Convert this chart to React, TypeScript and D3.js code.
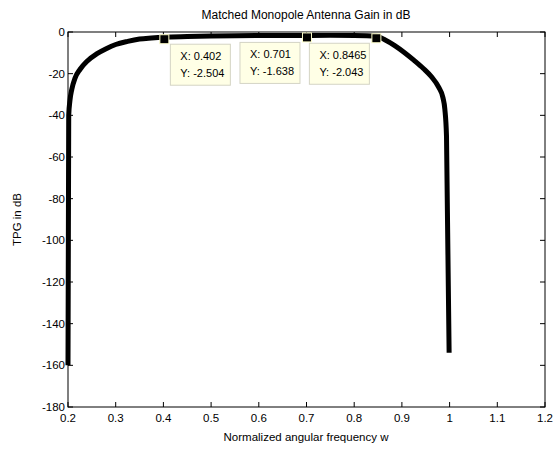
import React from "react";
import * as d3 from "d3";

const WIDTH = 559;
const HEIGHT = 449;
const MARGIN = { top: 32, right: 14, bottom: 42, left: 68 };

// normalized angular frequency and gain (dB)
const freq = [
  0.2, 0.2015, 0.204, 0.208, 0.215, 0.225, 0.24, 0.26, 0.28, 0.3, 0.325, 0.35,
  0.375, 0.402, 0.45, 0.5, 0.55, 0.6, 0.65, 0.701, 0.75, 0.8, 0.8465, 0.865,
  0.885, 0.905, 0.925, 0.945, 0.962, 0.977, 0.986, 0.99, 0.9935, 0.999,
];
const tpg = [
  -160, -40, -33, -27.5, -22, -18, -14, -10.5, -8, -6, -4.5, -3.4, -2.9, -2.504,
  -2.2, -1.95, -1.8, -1.72, -1.67, -1.638, -1.62, -1.7, -2.043, -3.8, -6.5,
  -9.8, -13.5, -17.5, -21.5, -26.5, -31.5, -37, -50, -154,
];

// data tips
const tipX = [0.402, 0.701, 0.8465];
const tipY = [-2.504, -1.638, -2.043];
const tipSide = ["right", "left", "left"];

const xTicks = [0.2, 0.3, 0.4, 0.5, 0.6, 0.7, 0.8, 0.9, 1, 1.1, 1.2];
const yTicks = [0, -20, -40, -60, -80, -100, -120, -140, -160, -180];

const FONT = "Liberation Sans, Arial, Helvetica, sans-serif";

export default function App() {
  const boundsWidth = WIDTH - MARGIN.left - MARGIN.right;
  const boundsHeight = HEIGHT - MARGIN.top - MARGIN.bottom;

  const xScale = d3.scaleLinear().domain([0.2, 1.2]).range([0, boundsWidth]);
  const yScale = d3.scaleLinear().domain([-180, 0]).range([boundsHeight, 0]);

  const line = d3
    .line<number>()
    .x((_, i) => xScale(freq[i]))
    .y((d) => yScale(d))
    .curve(d3.curveMonotoneX);

  const path = line(tpg) || "";
  const tick = 5;

  return (
    <svg
      width={WIDTH}
      height={HEIGHT}
      style={{ position: "absolute", left: 0, top: 0, background: "#fff" }}
      fontFamily={FONT}
    >
      <text x={306} y={19} fontSize={12} textAnchor="middle" fill="#000">
        Matched Monopole Antenna Gain in dB
      </text>
      <g transform={`translate(${MARGIN.left},${MARGIN.top})`}>
        <rect
          width={boundsWidth}
          height={boundsHeight}
          fill="#fff"
          stroke="#000"
          strokeWidth={1}
        />
        {xTicks.map((t) => (
          <g key={"x" + t} transform={`translate(${xScale(t)},0)`}>
            <line y1={boundsHeight} y2={boundsHeight - tick} stroke="#000" />
            <line y1={0} y2={tick} stroke="#000" />
            <text
              y={boundsHeight + 15}
              fontSize={11.5}
              textAnchor="middle"
              fill="#000"
            >
              {t}
            </text>
          </g>
        ))}
        {yTicks.map((t) => (
          <g key={"y" + t} transform={`translate(0,${yScale(t)})`}>
            <line x1={0} x2={tick} stroke="#000" />
            <line x1={boundsWidth} x2={boundsWidth - tick} stroke="#000" />
            <text
              x={-3}
              dy="0.35em"
              fontSize={11.5}
              textAnchor="end"
              fill="#000"
            >
              {t}
            </text>
          </g>
        ))}
        <path
          d={path}
          fill="none"
          stroke="#000"
          strokeWidth={5}
          strokeLinejoin="round"
        />
        {tipX.map((x, i) => {
          const cx = xScale(x);
          const cy = yScale(tipY[i]) + 2;
          const w = 60;
          const h = 41;
          const bx = tipSide[i] === "right" ? cx + 6 : cx - 7 - w;
          const by = cy + 5;
          return (
            <g key={"tip" + i}>
              <rect
                x={bx}
                y={by}
                width={w}
                height={h}
                fill="#ffffe6"
                stroke="#d4d4c4"
                strokeWidth={1}
              />
              <text x={bx + 10} y={by + 16} fontSize={11} fill="#000">
                X: {x}
              </text>
              <text x={bx + 10} y={by + 33} fontSize={11} fill="#000">
                Y: {tipY[i]}
              </text>
              <rect
                x={cx - 4.5}
                y={cy - 4.5}
                width={9}
                height={9}
                fill="#000"
                stroke="#ffffcc"
                strokeWidth={1}
              />
            </g>
          );
        })}
      </g>
      <text x={306} y={441} fontSize={11.5} textAnchor="middle" fill="#000">
        Normalized angular frequency w
      </text>
      <text
        transform={`translate(21,${MARGIN.top + boundsHeight / 2}) rotate(-90)`}
        fontSize={11.5}
        textAnchor="middle"
        fill="#000"
      >
        TPG in dB
      </text>
    </svg>
  );
}
